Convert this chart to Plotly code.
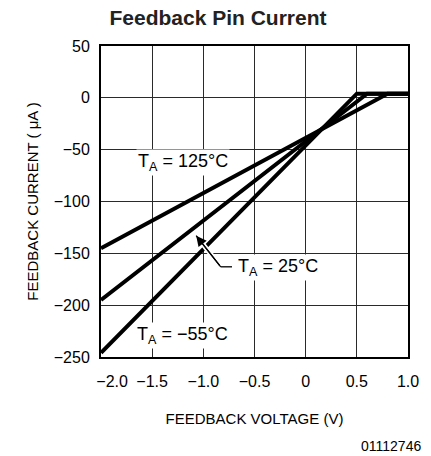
import plotly.graph_objects as go

# ---- data ----
x_m55 = [-2.0, 0.5, 1.0]
y_m55 = [-246, 4, 4]
x_25 = [-2.0, 0.6, 1.0]
y_25 = [-195, 4, 4]
x_125 = [-2.0, 0.8, 1.0]
y_125 = [-145, 4, 4]

x_tickvals = [-2.0, -1.5, -1.0, -0.5, 0.0, 0.5, 1.0]
x_ticktext = ["\u00a0\u00a0\u00a0\u00a0\u00a0\u22122.0", "\u22121.5", "\u22121.0", "\u22120.5", "0", "0.5", "1.0"]
y_tickvals = [50, 0, -50, -100, -150, -200, -250]
y_ticktext = ["50", "0", "\u221250", "\u2212100", "\u2212150", "\u2212200", "\u2212250"]

# annotation anchor points (data coords)
lbl_125 = (-1.20, -62)
lbl_25 = (-0.275, -164)
lbl_m55 = (-1.20, -229)
arrow_tip = (-1.07, -133)
arrow_corner = (-0.83, -163)
arrow_end = (-0.72, -163)

FONT = "Liberation Sans, Arial, sans-serif"

# page body has an 8px default margin; size the figure to compensate
OFF = 8
W, H = 431 - OFF, 456 - OFF
ML, MR, MT, MB = 101 - OFF, 21, 46 - OFF, 99

fig = go.Figure()
for xs, ys in [(x_125, y_125), (x_25, y_25), (x_m55, y_m55)]:
    fig.add_trace(go.Scatter(x=xs, y=ys, mode="lines",
                             line=dict(color="black", width=4),
                             showlegend=False, hoverinfo="skip"))

axis_common = dict(showgrid=True, gridcolor="#2a2a2a", gridwidth=1.4,
                   showline=True, linecolor="black", linewidth=2, mirror=True,
                   ticks="", zeroline=False,
                   tickfont=dict(family=FONT, size=16, color="black"))

fig.update_xaxes(range=[-2.0, 1.0], tickmode="array", tickvals=x_tickvals,
                 ticktext=x_ticktext, ticklabelstandoff=9,
                 title=dict(text="FEEDBACK VOLTAGE (V)", standoff=24,
                            font=dict(family=FONT, size=15, color="black")),
                 **axis_common)
fig.update_yaxes(range=[-250, 50], tickmode="array", tickvals=y_tickvals,
                 ticktext=y_ticktext, ticklabelstandoff=6,
                 title=dict(text="FEEDBACK CURRENT ( \u03bcA )", standoff=12,
                            font=dict(family=FONT, size=15, color="black")),
                 **axis_common)

# leader line for 25 C label (white halo + black line)
for col, w in [("white", 5), ("black", 1.3)]:
    fig.add_shape(type="line", xref="x", yref="y",
                  x0=arrow_tip[0], y0=arrow_tip[1], x1=arrow_corner[0], y1=arrow_corner[1],
                  line=dict(color=col, width=w), layer="above")
    fig.add_shape(type="line", xref="x", yref="y",
                  x0=arrow_corner[0], y0=arrow_corner[1], x1=arrow_end[0], y1=arrow_end[1],
                  line=dict(color=col, width=w), layer="above")
fig.add_annotation(x=arrow_tip[0], y=arrow_tip[1], ax=arrow_corner[0], ay=arrow_corner[1],
                   axref="x", ayref="y", xref="x", yref="y", text="",
                   showarrow=True, arrowhead=2, arrowsize=1.6, arrowwidth=1.3,
                   arrowcolor="black", standoff=0)

label_font = dict(family=FONT, size=18, color="black")
for (lx, ly), txt in [(lbl_125, "T<sub>A</sub> = 125\u00b0C"),
                      (lbl_25, "T<sub>A</sub> = 25\u00b0C"),
                      (lbl_m55, "T<sub>A</sub> = \u221255\u00b0C")]:
    fig.add_annotation(x=lx, y=ly, xref="x", yref="y", text=txt, showarrow=False,
                       font=label_font, bgcolor="white", borderpad=1,
                       xanchor="center", yanchor="middle")

pw, ph = W - ML - MR, H - MT - MB
fig.add_annotation(x=(422 - OFF - ML) / pw, y=(H - MB - (446 - OFF)) / ph,
                   xref="paper", yref="paper", text="01112746", xshift=3,
                   showarrow=False, font=dict(family=FONT, size=14, color="black"),
                   xanchor="right", yanchor="middle")

fig.update_layout(
    width=W, height=H,
    margin=dict(l=ML, r=MR, t=MT, b=MB),
    paper_bgcolor="white", plot_bgcolor="white",
    title=dict(text="<b>Feedback Pin Current</b>", x=(218 - OFF) / W, xref="container",
               xanchor="center", y=1 - 9.5 / H, yref="container", yanchor="middle",
               font=dict(family=FONT, size=21, color="#222")),
    font=dict(family=FONT, color="black"),
)

fig.write_html("out.html")
